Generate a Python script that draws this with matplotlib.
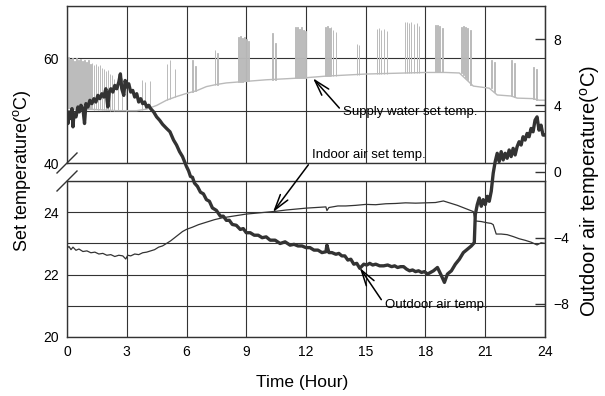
import matplotlib.pyplot as plt

plt.rcParams['font.family'] = ['Liberation Sans', 'DejaVu Sans']
plt.rcParams['mathtext.fontset'] = 'custom'
plt.rcParams['mathtext.rm'] = 'Liberation Sans'

# outdoor air temperature (right axis, degC)
outdoor_hour = [0.0, 0.05, 0.1, 0.18, 0.25, 0.3, 0.35, 0.45, 0.55, 0.62, 0.7, 0.8, 0.88, 0.95,
                1.05, 1.15, 1.25, 1.35, 1.45, 1.55, 1.65, 1.75, 1.85, 1.95, 2.05, 2.12, 2.2, 2.3,
                2.4, 2.5, 2.6, 2.68, 2.75, 2.85, 2.92, 3.0, 3.1, 3.2, 3.3, 3.4, 3.5, 3.6, 3.7,
                3.8, 3.9, 4.0, 4.1, 4.2, 4.35, 4.5, 4.65, 4.8, 5.0, 5.17, 5.35, 5.5, 5.65, 5.8,
                6.0, 6.1, 6.2, 6.3, 6.4, 6.55, 6.7, 6.85, 7.0, 7.15, 7.3, 7.5, 7.7, 7.85, 8.0,
                8.15, 8.3, 8.5, 8.7, 8.85, 9.0, 9.2, 9.4, 9.6, 9.8, 10.0, 10.2, 10.45, 10.7,
                10.95, 11.2, 11.4, 11.6, 11.8, 12.0, 12.2, 12.4, 12.6, 12.8, 13.0, 13.05, 13.15,
                13.3, 13.5, 13.65, 13.8, 13.95, 14.1, 14.25, 14.4, 14.55, 14.7,
                14.9, 15.05, 15.2, 15.35, 15.5, 15.7, 15.9, 16.1, 16.3, 16.45, 16.6, 16.75, 16.9,
                17.05, 17.2, 17.35, 17.5, 17.65, 17.8, 17.95, 18.1, 18.25, 18.4, 18.6,
                18.8, 18.95, 19.1, 19.3, 19.5, 19.7, 19.9, 20.1, 20.3, 20.45, 20.5, 20.6, 20.7,
                20.8, 20.9, 21.0, 21.1, 21.2, 21.3, 21.4, 21.5, 21.6, 21.7, 21.8, 21.9, 22.0,
                22.1, 22.2, 22.3, 22.4, 22.5, 22.6, 22.7, 22.8, 22.9, 23.0, 23.1, 23.2, 23.3,
                23.4, 23.5, 23.6, 23.7, 23.8, 23.9, 24.0]
outdoor_temp = [3.4, 2.9, 3.6, 3.2, 3.8, 2.7, 3.5, 3.3, 3.9, 3.6, 4.0, 3.8, 2.9, 4.1,
                3.9, 4.3, 4.1, 4.4, 4.2, 4.6, 4.4, 4.7, 4.5, 5.0, 3.9, 4.8, 5.0, 4.8,
                5.2, 5.0, 5.4, 5.9, 5.0, 4.6, 5.5, 5.1, 5.3, 4.8, 4.9, 4.5, 4.7, 4.2, 4.4,
                4.1, 4.2, 3.9, 4.0, 3.8, 3.6, 3.3, 3.1, 2.85, 2.6, 2.4, 1.9, 1.6, 1.2, 0.9,
                0.3, 0.05, -0.3, -0.35, -0.7, -0.9, -1.25, -1.35, -1.7, -1.8, -2.2, -2.35, -2.7, -2.7, -2.95,
                -2.95, -3.2, -3.25, -3.5, -3.45, -3.7, -3.7, -3.85, -3.85, -4.0, -3.95, -4.15, -4.15, -4.35,
                -4.25, -4.45, -4.4, -4.5, -4.5, -4.6, -4.6, -4.75, -4.75, -4.9, -4.85, -4.45, -4.9,
                -4.9, -5.0, -4.95, -5.1, -5.1, -5.35, -5.3, -5.6, -5.55, -5.85,
                -5.6, -5.65, -5.55, -5.65, -5.6, -5.7, -5.7, -5.65, -5.75, -5.7, -5.8, -5.75, -5.75,
                -5.9, -6.0, -5.95, -6.05, -6.0, -6.1, -6.05, -6.2, -6.1, -6.0, -5.8,
                -6.3, -6.7, -6.2, -6.0, -5.6, -5.3, -4.9, -4.7, -4.5, -4.3, -2.6, -2.0, -1.6,
                -2.1, -1.7, -2.0, -1.5, -1.8, -1.2, -0.1, 0.6, 1.1, 0.6, 1.2, 0.7, 1.1,
                0.8, 1.3, 0.9, 1.4, 1.0, 1.5, 1.8, 1.6, 2.1, 1.9, 2.3, 2.1, 2.6,
                2.4, 3.1, 3.3, 2.5, 2.8, 2.2, 2.2]

# indoor air set temperature (left axis, lower part)
indoor_hour = [0.0, 0.1, 0.2, 0.3, 0.45, 0.6, 0.8, 1.0, 1.2, 1.4, 1.6, 1.8, 2.0, 2.2, 2.4,
               2.6, 2.8, 2.95, 3.05, 3.2, 3.4, 3.6, 3.8, 4.0, 4.2, 4.4, 4.6, 4.8, 5.0, 5.2,
               5.4, 5.6, 5.8, 6.0, 6.3, 6.6, 7.0, 7.4, 7.8, 8.2, 8.6, 9.0, 9.5, 10.0, 10.5,
               11.0, 11.5, 12.0, 12.5, 13.0, 13.05, 13.15, 13.6, 14.0, 14.5, 15.0, 15.5,
               16.0, 16.5, 17.0, 17.5, 18.0, 18.5, 18.9, 19.2, 19.6, 20.0, 20.4, 20.5,
               20.8, 21.1, 21.3, 21.4, 21.55, 21.8, 22.1, 22.4, 22.7, 23.0, 23.3, 23.6,
               23.8, 24.0]
indoor_temp = [22.85, 22.9, 22.8, 22.88, 22.78, 22.82, 22.74, 22.76, 22.7, 22.72, 22.66, 22.68,
               22.62, 22.64, 22.58, 22.62, 22.6, 22.5, 22.62, 22.6, 22.66, 22.64, 22.7, 22.72,
               22.76, 22.8, 22.88, 22.92, 23.0, 23.08, 23.18, 23.28, 23.38, 23.45, 23.52, 23.6,
               23.68, 23.76, 23.82, 23.86, 23.9, 23.94, 23.97, 24.0, 24.03, 24.07, 24.1, 24.13,
               24.15, 24.17, 24.05, 24.15, 24.2, 24.2, 24.22, 24.25, 24.24, 24.27, 24.28, 24.3,
               24.29, 24.3, 24.31, 24.36, 24.3, 24.22, 24.12, 24.02, 23.72, 23.7, 23.66, 23.64,
               23.6, 23.3, 23.3, 23.28, 23.22, 23.15, 23.1, 23.04, 22.95, 23.02, 23.0]

# supply water set temperature (left axis, upper part): base level + on/off pulses
supply_base_hour = [0.0, 2.5, 3.5, 4.0, 4.5, 5.0, 5.5, 6.0, 6.5, 7.0, 7.5, 8.0, 9.0, 10.0,
                    11.0, 12.0, 13.0, 14.0, 15.0, 16.0, 17.0, 18.0, 19.0, 19.7, 20.4, 21.2,
                    21.6, 22.3, 22.6, 23.4, 23.7, 24.0]
supply_base_temp = [50.5, 50.0, 50.0, 50.3, 51.0, 52.0, 52.7, 53.3, 53.8, 54.6, 55.0, 55.3,
                    55.6, 55.9, 56.1, 56.3, 56.6, 56.8, 57.0, 57.1, 57.2, 57.3, 57.3, 57.2,
                    54.7, 54.3, 53.0, 52.8, 52.4, 52.3, 52.0, 52.0]
pulse_hour = [0.05, 0.15, 0.25, 0.35, 0.45, 0.55, 0.65, 0.75, 0.85, 0.95, 1.05, 1.15, 1.25,
              1.35, 1.45, 1.55, 1.65, 1.75, 1.85, 1.95, 2.05, 2.15, 2.25, 2.35,
              2.55, 2.75, 2.95, 3.75, 3.9, 4.15, 5.0, 5.15, 5.4, 6.3, 6.45, 7.42, 7.55,
              8.6, 8.7, 8.8, 8.9, 9.0, 9.1, 10.3, 10.45,
              11.45, 11.55, 11.65, 11.75, 11.85, 11.95,
              12.95, 13.05, 13.15, 13.25, 13.35, 13.5, 14.55, 14.65,
              15.55, 15.65, 15.75, 15.9, 16.05,
              16.95, 17.05, 17.15, 17.25, 17.4, 17.55, 17.65,
              18.5, 18.6, 18.7, 18.85, 19.8, 19.9, 20.0, 20.1, 20.25,
              21.3, 21.45, 22.3, 22.45, 23.4, 23.55]
pulse_low = [50.6, 50.5, 50.6, 50.4, 50.5, 50.6, 50.4, 50.5, 50.3, 50.5, 50.4, 50.3, 50.4,
             50.2, 50.3, 50.2, 50.3, 50.1, 50.2, 50.1, 50.2, 50.0, 50.1, 50.0,
             50.2, 50.1, 50.0, 50.2, 50.3, 50.6, 52.0, 52.3, 52.6, 53.6, 53.8, 55.0, 55.0,
             55.5, 55.5, 55.5, 55.6, 55.6, 55.6, 55.9, 55.9,
             56.2, 56.2, 56.2, 56.2, 56.3, 56.3,
             56.6, 56.6, 56.6, 56.6, 56.7, 56.7, 56.9, 56.9,
             57.1, 57.1, 57.1, 57.1, 57.1,
             57.2, 57.2, 57.2, 57.2, 57.2, 57.2, 57.2,
             57.3, 57.3, 57.3, 57.3, 57.2, 56.8, 56.3, 55.8, 55.0,
             54.3, 53.5, 52.8, 52.6, 52.3, 52.1]
pulse_high = [60.2, 59.8, 60.0, 59.5, 60.1, 59.6, 59.9, 59.4, 59.7, 59.3, 59.6, 59.0, 59.2,
              58.8, 59.0, 58.5, 58.7, 58.2, 58.0, 57.6, 57.8, 57.0, 56.8, 56.0,
              56.8, 56.2, 55.5, 55.8, 55.4, 55.7, 59.0, 59.6, 58.0, 59.6, 58.6, 61.5, 61.0,
              64.0, 64.2, 63.9, 64.1, 63.7, 63.4, 64.8, 63.0,
              65.9, 66.0, 65.6, 65.9, 65.5, 65.2,
              65.9, 66.1, 65.8, 65.9, 65.4, 65.0, 62.8, 62.5,
              65.7, 65.8, 65.5, 65.6, 65.2,
              66.9, 67.0, 66.8, 66.9, 66.5, 66.7, 66.2,
              66.3, 66.4, 66.1, 65.8, 66.0, 66.1, 65.9, 65.8, 65.5,
              59.6, 59.3, 59.6, 59.2, 58.3, 58.0]

hour_ticks = [0, 3, 6, 9, 12, 15, 18, 21, 24]
dark = '#333333'
gray = '#bababa'

fig = plt.figure(figsize=(6.05, 3.96), dpi=100)
left, width = 67 / 605, 478 / 605
ax_top = fig.add_axes([left, 233 / 396, width, 157 / 396])
ax_bot = fig.add_axes([left, 59 / 396, width, 156 / 396])
ax_r = fig.add_axes([left, 59 / 396, width, 331 / 396])

for ax in (ax_top, ax_bot):
    ax.set_xlim(0, 24)
    ax.set_xticks(hour_ticks)
    ax.grid(True, color=dark, lw=0.8)
    ax.set_axisbelow(True)
    ax.tick_params(length=0, labelsize=10, pad=6, colors='black')
    for s in ax.spines.values():
        s.set_color(dark)
        s.set_linewidth(1.0)

ax_top.set_ylim(40, 70)
ax_top.set_yticks([40, 50, 60, 70], ['40', '', '60', ''])
ax_top.tick_params(labelbottom=False)
ax_top.plot(supply_base_hour, supply_base_temp, color=gray, lw=1.0)
# each pulse drawn as an open rectangle from its low to its high value
ax_top.bar(pulse_hour, [hi - lo for hi, lo in zip(pulse_high, pulse_low)], bottom=pulse_low,
           width=0.03, align='edge', fill=False, edgecolor=gray, lw=0.7)

ax_bot.set_ylim(20, 25)
ax_bot.set_yticks([20, 21, 22, 23, 24, 25], ['20', '', '22', '', '24', ''])
ax_bot.set_xticklabels([str(h) for h in hour_ticks])
ax_bot.plot(indoor_hour, indoor_temp, color=dark, lw=0.9)

# break marks on the left axis
dx = 10 / 478
kw = dict(color=dark, lw=1.0, clip_on=False)
ax_top.plot([-dx, dx], [-10 / 157, 10 / 157], transform=ax_top.transAxes, **kw)
ax_bot.plot([-dx, dx], [1 - 10 / 156, 1 + 10 / 156], transform=ax_bot.transAxes, **kw)

# right axis for outdoor temperature, spanning the whole height
ax_r.patch.set_visible(False)
ax_r.set_xlim(0, 24)
ax_r.set_ylim(-10, 10)
ax_r.set_xticks([])
ax_r.yaxis.tick_right()
ax_r.set_yticks([-8, -4, 0, 4, 8])
ax_r.tick_params(axis='y', direction='in', length=7, width=1.0, color=dark, labelsize=10, pad=6)
for side in ('left', 'top', 'bottom'):
    ax_r.spines[side].set_visible(False)
ax_r.spines['right'].set_color(dark)
ax_r.plot(outdoor_hour, outdoor_temp, color=dark, lw=2.4)

arrow = dict(arrowstyle='->, head_length=1.2, head_width=0.35', color='black', lw=1.1,
             shrinkA=1, shrinkB=0)
ax_r.annotate('Supply water set temp.', xy=(12.35, 56.2), xytext=(13.86, 49.7),
              xycoords=ax_top.transData, textcoords=ax_top.transData,
              ha='left', va='center', fontsize=9.5, annotation_clip=False,
              arrowprops=dict(arrow, relpos=(0, 0.5)))
ax_r.annotate('Indoor air set temp.', xy=(10.34, 24.0), xytext=(12.3, 41.5),
              xycoords=ax_bot.transData, textcoords=ax_top.transData,
              ha='left', va='center', fontsize=9.5, annotation_clip=False,
              arrowprops=dict(arrow, relpos=(0, 0.1)))
ax_r.annotate('Outdoor air temp.', xy=(14.7, -5.82), xytext=(15.96, -8.06),
              ha='left', va='center', fontsize=9.5, annotation_clip=False,
              arrowprops=dict(arrow, relpos=(0, 0.5)))

fig.text(22 / 605, 1 - 171 / 396, r'Set temperature($^{\rm o}$C)', rotation=90,
         ha='center', va='center', fontsize=13)
fig.text(590 / 605, 1 - 191 / 396, r'Outdoor air temperature($^{\rm o}$C)', rotation=90,
         ha='center', va='center', fontsize=14.5)
fig.text(302 / 605, 1 - 383 / 396, 'Time (Hour)', ha='center', va='center', fontsize=12.5)

fig.savefig('out.png', dpi=100)
